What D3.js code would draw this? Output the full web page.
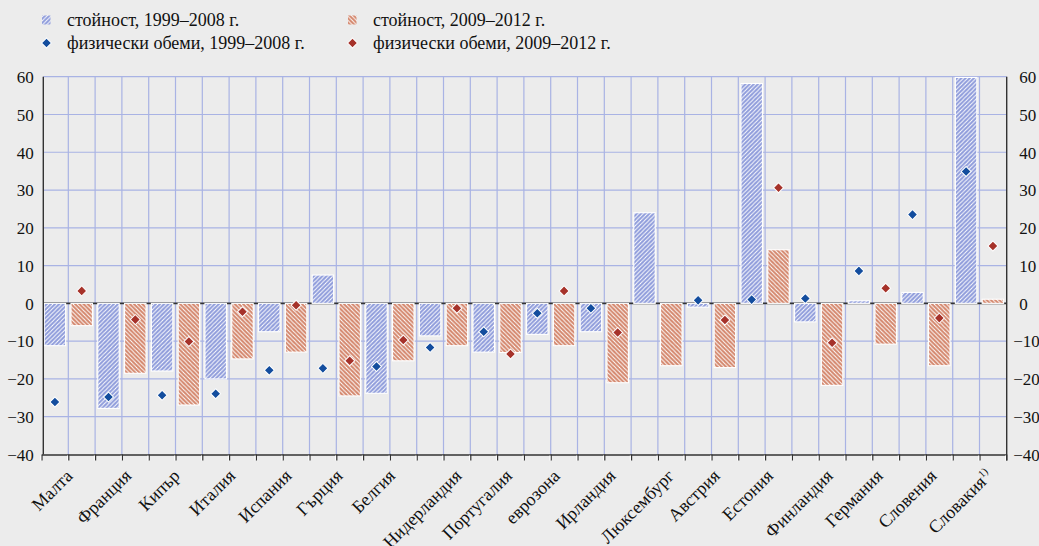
<!DOCTYPE html>
<html>
<head>
<meta charset="utf-8">
<script src="https://cdn.jsdelivr.net/npm/d3@7"></script>
<style>
  html, body { margin: 0; padding: 0; background: #ececec; }
  svg { display: block; font-family: "Liberation Serif", "Times New Roman", serif; }
</style>
</head>
<body>
<svg id="chart" width="1039" height="546"></svg>
<script>
// Categories (countries, sorted by physical volumes 1999–2008)
const categories = ["Малта", "Франция", "Кипър", "Италия", "Испания", "Гърция", "Белгия",
  "Нидерландия", "Португалия", "еврозона", "Ирландия", "Люксембург", "Австрия", "Естония",
  "Финландия", "Германия", "Словения", "Словакия"];

// Value change (bars), %
const value9908 = [-11.2, -27.8, -17.9, -20.0, -7.5, 7.5, -23.8, -8.6, -12.9, -8.2, -7.5, 24.0,
  -1.0, 58.2, -4.9, 0.7, 2.9, 59.8];
const value0912 = [-5.9, -18.5, -26.9, -14.7, -12.9, -24.5, -15.2, -11.2, -13.0, -11.2, -21.0,
  -16.5, -17.0, 14.2, -21.7, -10.8, -16.5, 1.1];

// Physical volume change (markers), %
const volume9908 = [-26.1, -24.8, -24.3, -23.9, -17.7, -17.2, -16.7, -11.7, -7.5, -2.6, -1.3,
  null, 0.8, 1.0, 1.3, 8.6, 23.5, 34.9];
const volume0912 = [3.3, -4.3, -10.1, -2.2, -0.5, -15.2, -9.7, -1.3, -13.4, 3.3, -7.7, null,
  -4.4, 30.6, -10.4, 4.0, -3.9, 15.2];

const yTicks = [-40, -30, -20, -10, 0, 10, 20, 30, 40, 50, 60];
const seriesKeys = ["p1", "p2"];
const legendLabels = ["стойност, 1999–2008 г.", "стойност, 2009–2012 г.",
  "физически обеми, 1999–2008 г.", "физически обеми, 2009–2012 г."];

const BLUE_FILL = "#8f9cdb", RED_FILL = "#d4876d";
const BLUE_MARK = "#134d9e", RED_MARK = "#a6322a";
const GRID = "#a9b3e4", AXIS = "#333", TEXT = "#111";
const FONT = "Liberation Serif";

const svg = d3.select("#chart");
svg.append("rect").attr("width", 1039).attr("height", 546).attr("fill", "#ececec");

// Hatch patterns
const defs = svg.append("defs");
function hatch(id, color, forward) {
  const w = 4.2;
  const p = defs.append("pattern").attr("id", id).attr("patternUnits", "userSpaceOnUse")
    .attr("width", w).attr("height", w);
  p.append("rect").attr("width", w).attr("height", w).attr("fill", color);
  p.append("path")
    .attr("d", forward
      ? `M${-w / 2},${w / 2} l${w},${-w} M0,${w} l${w},${-w} M${w / 2},${1.5 * w} l${w},${-w}`
      : `M${-w / 2},${w / 2} l${w},${w} M0,0 l${w},${w} M${w / 2},${-w / 2} l${w},${w}`)
    .attr("stroke", "#fff").attr("stroke-width", 1.0);
}
hatch("hatchBlue", BLUE_FILL, true);
hatch("hatchRed", RED_FILL, false);

// Scales
const plotLeft = 41.5, plotRight = 1006.3, plotTop = 76.7, plotBottom = 454.5;
const x = d3.scaleBand().domain(categories).range([plotLeft, plotRight]).padding(0);
const xs = d3.scaleBand().domain(seriesKeys).range([0, x.bandwidth()]).padding(0);
const slot = d3.scaleLinear().domain([0, categories.length * 2]).range([plotLeft, plotRight]);
const y = d3.scaleLinear().domain([-40, 60]).range([plotBottom, plotTop]);

// Grid
const grid = svg.append("g");
grid.selectAll("line.h").data(yTicks.filter(t => t > -40)).join("line")
  .attr("x1", plotLeft + 1.8).attr("x2", plotRight + 0.4)
  .attr("y1", d => y(d)).attr("y2", d => y(d))
  .attr("stroke", GRID).attr("stroke-width", 1.2);
grid.selectAll("line.v").data(d3.range(1, categories.length * 2)).join("line")
  .attr("x1", d => slot(d)).attr("x2", d => slot(d))
  .attr("y1", plotTop).attr("y2", plotBottom)
  .attr("stroke", GRID).attr("stroke-width", 1.2);

// Zero line
svg.append("line").attr("x1", plotLeft + 1.8).attr("x2", plotRight + 0.4)
  .attr("y1", y(0)).attr("y2", y(0)).attr("stroke", AXIS).attr("stroke-width", 1.6);

// Bars
const barW = xs.bandwidth() * 0.8;
const bars = svg.append("g");
function drawBars(values, key, fill) {
  bars.selectAll(null).data(values.map((v, i) => ({ v, c: categories[i] }))).join("rect")
    .attr("x", d => x(d.c) + xs(key) + (xs.bandwidth() - barW) / 2)
    .attr("width", barW)
    .attr("y", d => y(Math.max(0, d.v)))
    .attr("height", d => Math.abs(y(d.v) - y(0)))
    .attr("fill", fill).attr("stroke", "#fff").attr("stroke-width", 1.1);
}
drawBars(value9908, "p1", "url(#hatchBlue)");
drawBars(value0912, "p2", "url(#hatchRed)");

// Markers
const diamond = d3.symbol().type(d3.symbolSquare).size(50);
function drawMarks(values, key, color) {
  svg.append("g").selectAll("path")
    .data(values.map((v, i) => ({ v, c: categories[i] })).filter(d => d.v !== null))
    .join("path")
    .attr("d", diamond)
    .attr("transform", d => `translate(${x(d.c) + xs(key) + xs.bandwidth() / 2},${y(d.v)}) rotate(45)`)
    .attr("fill", color).attr("stroke", "#fff").attr("stroke-width", 1);
}
drawMarks(volume9908, "p1", BLUE_MARK);
drawMarks(volume0912, "p2", RED_MARK);

// Axis lines
svg.append("line").attr("x1", plotLeft + 1.8).attr("x2", plotLeft + 1.8).attr("y1", plotTop).attr("y2", plotBottom)
  .attr("stroke", AXIS).attr("stroke-width", 1.4);
svg.append("line").attr("x1", plotRight + 0.4).attr("x2", plotRight + 0.4).attr("y1", plotTop).attr("y2", plotBottom + 6)
  .attr("stroke", AXIS).attr("stroke-width", 1.4);

// Bottom axis with ticks at every slot boundary
const xAxis = d3.axisBottom(slot).tickValues(d3.range(0, categories.length * 2 + 1))
  .tickSize(6).tickSizeOuter(0).tickFormat("");
const gx = svg.append("g").attr("transform", `translate(0,${plotBottom})`).call(xAxis);
gx.select(".domain").attr("stroke", AXIS).attr("stroke-width", 1.6);
gx.selectAll(".tick line").attr("stroke", AXIS).attr("stroke-width", 1.2);
gx.selectAll(".tick").append("line").attr("x1", -1.3).attr("x2", -1.3).attr("y1", 1).attr("y2", 6)
  .attr("stroke", "#fff").attr("stroke-width", 1);

// Left axis labels
const yAxisL = d3.axisLeft(y).tickValues(yTicks).tickSize(0).tickPadding(9.5).tickFormat(d3.format("d"));
const gyl = svg.append("g").attr("transform", `translate(${plotLeft + 1.8},0)`).call(yAxisL)
  .attr("font-family", FONT).attr("font-size", 17);
gyl.select(".domain").remove();
gyl.selectAll("text").attr("fill", TEXT).attr("dy", "0.34em");

// Right axis labels: digits aligned, minus sign hanging left
const yAxisR = d3.axisRight(y).tickValues(yTicks).tickSize(0).tickPadding(12).tickFormat(d3.format("d"));
const gyr = svg.append("g").attr("transform", `translate(${plotRight + 0.4},0)`).call(yAxisR)
  .attr("font-family", FONT).attr("font-size", 17);
gyr.select(".domain").remove();
gyr.selectAll("text").attr("fill", TEXT).attr("dy", "0.34em")
  .attr("x", d => d < 0 ? 6.5 : 12.5);

// Category labels, rotated
const labels = svg.append("g").attr("font-family", FONT).attr("font-size", 18).attr("fill", TEXT);
categories.forEach((c, i) => {
  const t = labels.append("text").attr("text-anchor", "end").text(c);
  if (i === categories.length - 1) {
    t.append("tspan").attr("font-size", 10.5).attr("dy", -7).text("1)");
  }
  const L = t.node().getComputedTextLength();
  const cx = x(c) + x.bandwidth() / 2;
  t.attr("transform", `translate(${cx - 7.4 + 0.26 * L},${477}) rotate(-45)`);
});

// Legend
const lg = svg.append("g").attr("font-family", FONT).attr("font-size", 18).attr("fill", TEXT);
const legendItems = [
  { kind: "bar", fill: "url(#hatchBlue)", x: 42, y: 20, label: legendLabels[0] },
  { kind: "bar", fill: "url(#hatchRed)", x: 348, y: 20, label: legendLabels[1] },
  { kind: "mark", fill: BLUE_MARK, x: 42, y: 43, label: legendLabels[2] },
  { kind: "mark", fill: RED_MARK, x: 348, y: 43, label: legendLabels[3] }
];
legendItems.forEach(it => {
  if (it.kind === "bar") {
    lg.append("rect").attr("x", it.x).attr("y", it.y - 4.5).attr("width", 8.5).attr("height", 9)
      .attr("fill", it.fill);
  } else {
    lg.append("path").attr("d", diamond)
      .attr("transform", `translate(${it.x + 4.5},${it.y}) rotate(45)`)
      .attr("fill", it.fill).attr("stroke", "#fff").attr("stroke-width", 1);
  }
  lg.append("text").attr("x", it.x + 25).attr("y", it.y + 6).text(it.label);
});
</script>
</body>
</html>
